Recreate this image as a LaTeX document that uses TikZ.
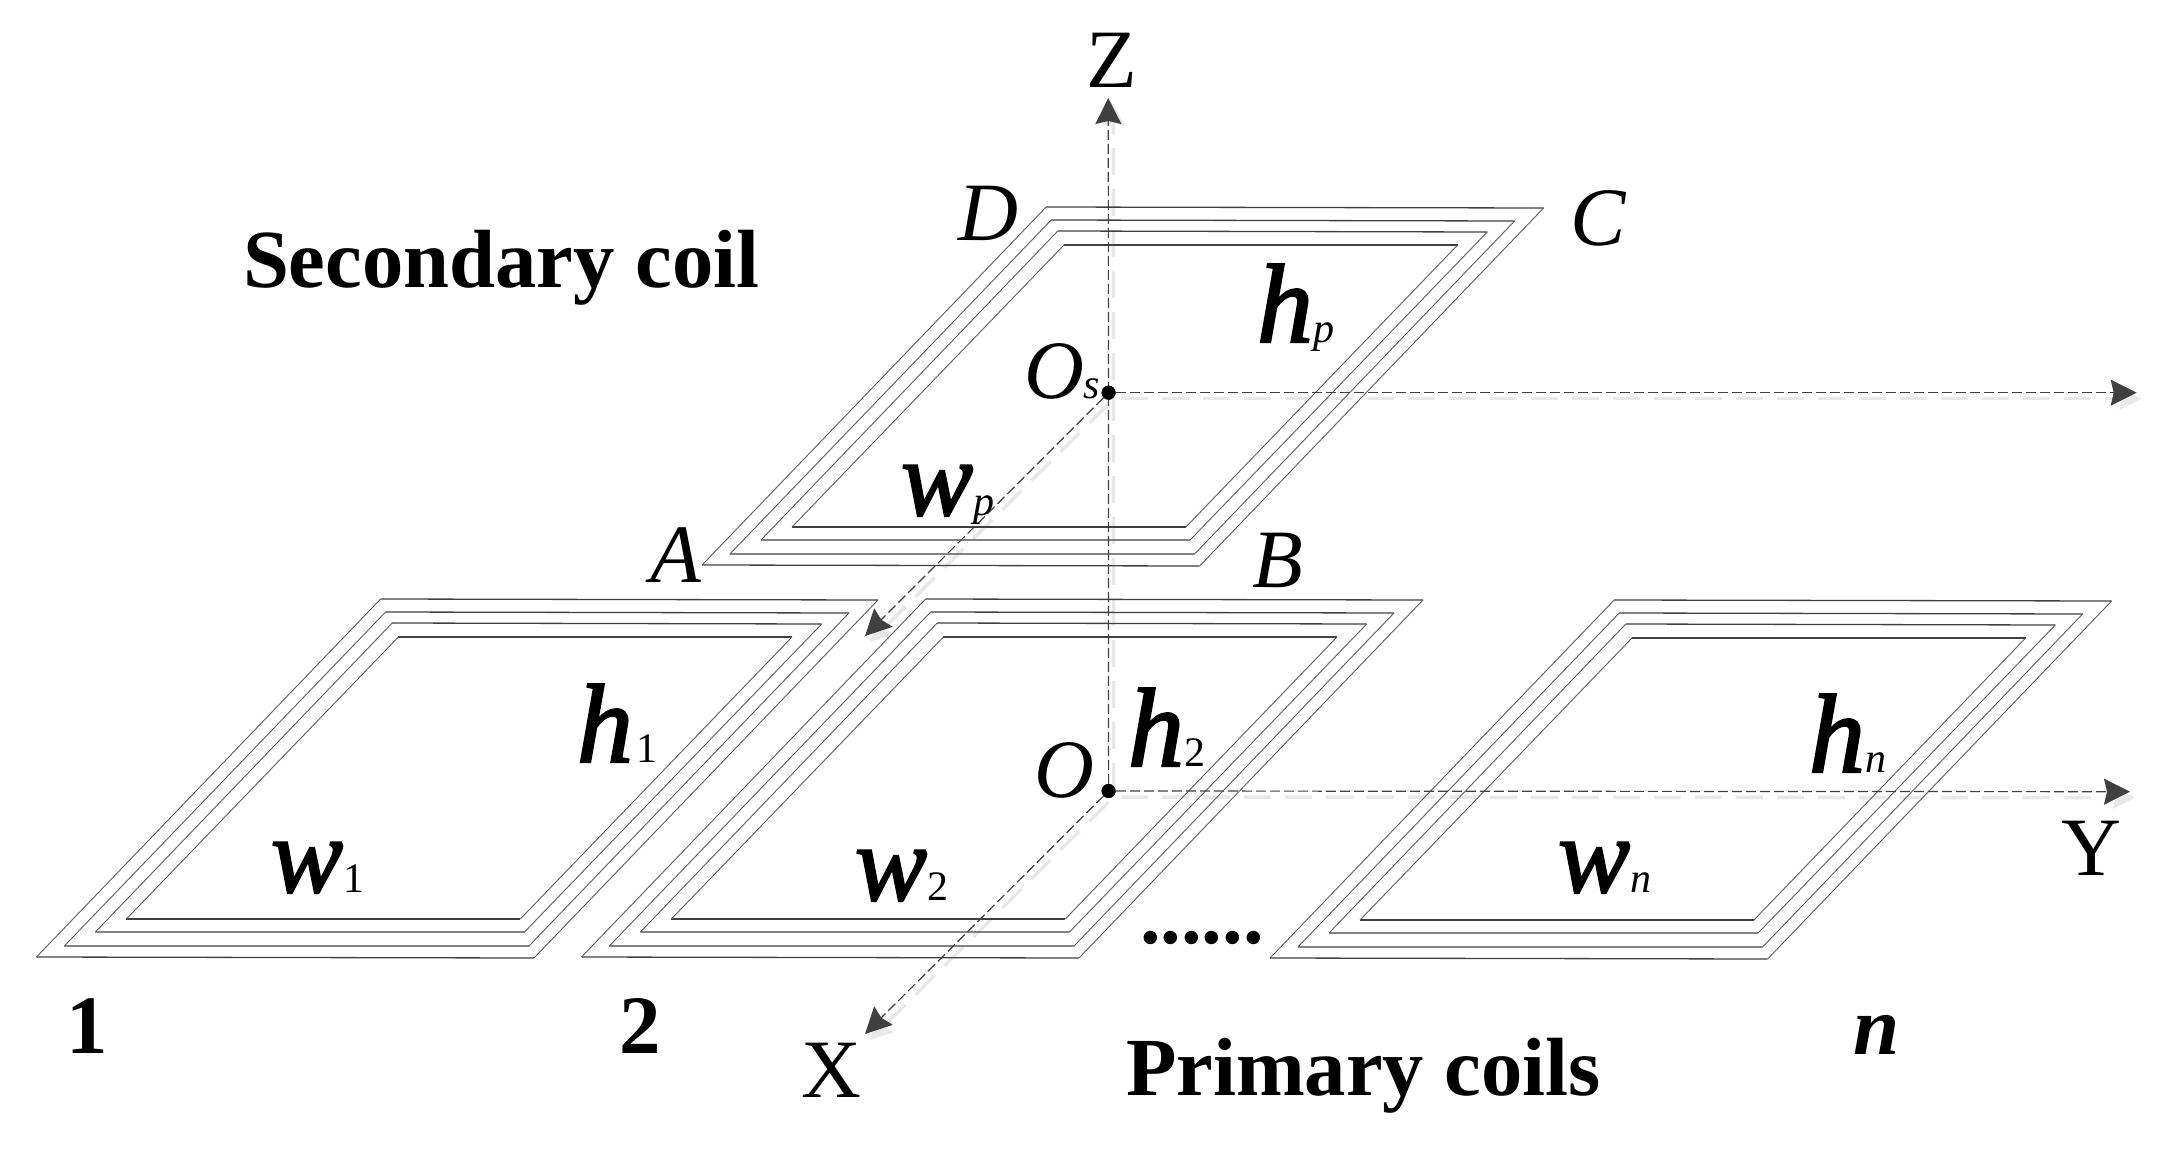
\documentclass[tikz,border=0pt]{standalone}
\usepackage{fontspec}
\setmainfont{Liberation Serif}
\newfontfamily\fbi[FakeBold=2]{Liberation Serif}
\usetikzlibrary{arrows.meta}
\definecolor{wire}{HTML}{404040}
\definecolor{shade}{HTML}{E8E8E8}
\newcommand{\bigf}{\fontsize{83}{90}\selectfont}
\newcommand{\titlef}{\fontsize{82.6}{90}\selectfont\bfseries}
\newcommand{\hf}{\fontsize{112}{120}\selectfont\fbi\itshape}
\newcommand{\wf}{\fontsize{108}{115}\selectfont\fbi\itshape}
\newcommand{\subf}{\fontsize{42}{48}\selectfont\rmfamily\mdseries}
\newcommand{\windng}[8]{%
  \draw[hwire] (#1,#2) -- (#3,#4) (#7,#8) -- (#5,#6);
  \draw[swire] (#1,#2) -- (#7,#8) (#3,#4) -- (#5,#6);}
\tikzset{
  hwire/.style={draw=wire,line width=1.3pt},
  swire/.style={draw=wire!85,line width=0.9pt},
  lab/.style={inner sep=0pt,outer sep=0pt,anchor=base west,text=black},
  axisline/.style={draw=wire,line width=1.2pt,dash pattern=on 10pt off 4pt,
    -{Stealth[length=26pt,width=26pt,inset=3pt]}},
  axisshade/.style={draw=shade,line width=3.5pt,dash pattern=on 27pt off 14pt,
    -{Stealth[length=22pt,width=22pt,inset=3pt]},
    transform canvas={shift={(5pt,-6pt)}}},
  centredot/.style={circle,fill=black,inner sep=0pt,minimum size=14pt},
  coil/.pic={
    \windng{36.5}{957}{534}{958}{878}{600}{380.6}{599}
    \windng{64.3}{946}{529}{946}{849}{613}{385.6}{612}
    \windng{95.4}{932}{524.5}{932}{821.7}{624}{392.2}{623}
    \windng{126.4}{919}{520.3}{919}{792}{637}{398.4}{637}
  }
}
\begin{document}
\begin{tikzpicture}[x=1pt,y=-1pt]
\useasboundingbox (0,0) rectangle (2164,1153);
% axis anchors
\node[centredot] (O) at (1108.6,791) {};
\node[centredot] (Os) at (1108.6,392.7) {};
\coordinate (Ztip) at (1108.3,98);
\coordinate (Ytip) at (2130,791.7);
\coordinate (Ystip) at (2136.7,392.7);
\coordinate (Xtip) at (865,1034);
\coordinate (Xstip) at (865,636);
% soft shadows
\draw[axisshade] (O) -- (Ztip);
\draw[axisshade] (O) -- (Ytip);
\draw[axisshade] (Os) -- (Ystip);
\draw[axisshade] (O) -- (Xtip);
\draw[axisshade] (Os) -- (Xstip);
% coils
\pic at (0,0) {coil};
\pic at (545,0) {coil};
\pic at (1233.6,1) {coil};
\pic at (665.6,-392) {coil};
% axes
\draw[axisline] (O) -- (Ztip);
\draw[axisline] (O) -- (Ytip);
\draw[axisline] (Os) -- (Ystip);
\draw[axisline] (O) -- (Xtip);
\draw[axisline] (Os) -- (Xstip);
\node[centredot] at (O) {};
\node[centredot] at (Os) {};
% labels
\node[lab] (lSec) at (243,287) {\titlef Secondary coil};
\node[lab] (lPri) at (1126,1095) {\titlef Primary coils};
\node[lab] (lZ) at (1086,88) {\bigf Z};
\node[lab] (lY) at (2061,875) {\bigf Y};
\node[lab] (lX) at (801,1097) {\bigf X};
\node[lab] (lD) at (958,240) {\bigf\itshape D};
\node[lab] (lC) at (1570,245) {\bigf\itshape C};
\node[lab] (lA) at (650,582) {\bigf\itshape A};
\node[lab] (lB) at (1252,587) {\bigf\itshape B};
\node[lab] (lOs) at (1024,398) {\bigf\itshape O{\subf\itshape s}};
\node[lab] (lO) at (1034,797) {\bigf\itshape O};
\node[lab] (lhp) at (1257,342) {\hf h{\subf\itshape p}};
\node[lab] (lwp) at (901,515) {\wf w{\subf\itshape p}};
\node[lab] (lh1) at (577,762) {\hf h\kern3pt{\subf\upshape 1}};
\node[lab] (lw1) at (271,892) {\wf w{\subf\upshape 1}};
\node[lab] (lh2) at (1128,766) {\hf h{\subf\upshape 2}};
\node[lab] (lw2) at (855,900) {\wf w{\subf\upshape 2}};
\node[lab] (lhn) at (1809,772) {\hf h{\subf\itshape n}};
\node[lab] (lwn) at (1558,892) {\wf w{\subf\itshape n}};
\node[lab] (ldots) at (1140,943) {\titlef ......};
\node[lab] (l1) at (66,1053) {\bigf\bfseries 1};
\node[lab] (l2) at (619,1053) {\bigf\bfseries 2};
\node[lab] (ln) at (1853,1054) {\bigf\bfseries\itshape n};
\end{tikzpicture}
\end{document}
